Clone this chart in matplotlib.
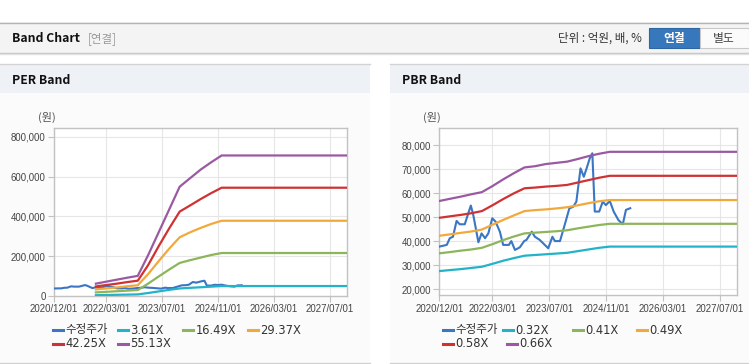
import matplotlib
matplotlib.use("Agg")
import matplotlib.pyplot as plt
import matplotlib.dates as mdates
from matplotlib.patches import Rectangle
from matplotlib.lines import Line2D
from matplotlib.ticker import FuncFormatter
import pandas as pd

# ---------------- data ----------------
price_dates = ['2020-12-01', '2021-02-03', '2021-03-01', '2021-03-28', '2021-04-28', '2021-05-25',
               '2021-07-07', '2021-08-28', '2021-09-18', '2021-11-01', '2021-11-28', '2021-12-28',
               '2022-01-25', '2022-02-28', '2022-03-28', '2022-05-04', '2022-06-01', '2022-07-20',
               '2022-08-10', '2022-09-10', '2022-10-22', '2022-11-28', '2022-12-18', '2023-02-01',
               '2023-02-28', '2023-04-10', '2023-06-22', '2023-07-28', '2023-08-18', '2023-10-01',
               '2023-11-10', '2023-12-20', '2024-01-22', '2024-02-18', '2024-03-25', '2024-04-22',
               '2024-05-16', '2024-06-12', '2024-07-04', '2024-07-25', '2024-09-01', '2024-10-01',
               '2024-10-28', '2024-12-01', '2025-01-03', '2025-02-12', '2025-03-22', '2025-04-18',
               '2025-05-25']
price = [37800, 38500, 41300, 41900, 48500, 47100,
         47100, 54900, 51000, 39600, 43300, 41300,
         43300, 49600, 48200, 44000, 38500, 38500,
         40100, 36400, 37500, 40100, 40600, 44000,
         41900, 40600, 37100, 41900, 40100, 40100,
         46800, 53700, 54400, 56500, 70400, 66900,
         70400, 74600, 76700, 52400, 52400, 56500,
         55100, 56800, 52400, 48900, 47100, 53100,
         53800]

per_dates = ['2021-12-01', '2022-03-01', '2022-06-01', '2022-09-01', '2022-12-01', '2023-03-01',
             '2023-06-01', '2023-09-01', '2023-12-01', '2024-03-01', '2024-06-01', '2024-09-01',
             '2024-12-01', '2027-11-28']
per_labels = ['3.61X', '16.49X', '29.37X', '42.25X', '55.13X']
per_361 = [4000, 5000, 6000, 7000, 8000, 15000, 23000, 31000, 38000, 41000, 44000, 47000, 50000, 50000]
per_1649 = [18000, 21000, 24000, 27000, 30000, 62000, 98000, 133000, 166000, 180000, 193000, 206000, 216000, 216000]
per_2937 = [33000, 38000, 43000, 49000, 54000, 110000, 175000, 238000, 295000, 320000, 342000, 362000, 378000, 378000]
per_4225 = [48000, 55000, 62000, 70000, 77000, 155000, 250000, 340000, 424000, 455000, 487000, 517000, 544000, 544000]
per_5513 = [62000, 72000, 82000, 92000, 101000, 205000, 320000, 435000, 549000, 592000, 635000, 672000, 706000, 706000]

pbr_dates = ['2020-12-01', '2021-03-01', '2021-06-01', '2021-09-01', '2021-12-01', '2022-03-01',
             '2022-06-01', '2022-09-01', '2022-12-01', '2023-03-01', '2023-06-01', '2023-09-01',
             '2023-12-01', '2024-03-01', '2024-06-01', '2024-09-01', '2024-12-01', '2027-11-28']
pbr_labels = ['0.32X', '0.41X', '0.49X', '0.58X', '0.66X']
pbr_032 = [27600, 28000, 28400, 28900, 29400, 30600, 31900, 33000, 34000, 34300, 34600, 34900,
           35200, 35900, 36600, 37300, 37800, 37800]
pbr_041 = [35000, 35500, 36100, 36600, 37300, 38800, 40500, 42000, 43300, 43600, 43900, 44200,
           44600, 45400, 46100, 46800, 47300, 47300]
pbr_049 = [42300, 42900, 43500, 44100, 44900, 46900, 48900, 50800, 52600, 53000, 53300, 53700,
           54200, 55000, 55900, 56700, 57200, 57200]
pbr_058 = [49800, 50400, 51000, 51700, 52600, 55000, 57600, 60000, 62100, 62400, 62800, 63100,
           63500, 64500, 65500, 66500, 67300, 67300]
pbr_066 = [56800, 57700, 58600, 59600, 60500, 63000, 65800, 68400, 70800, 71300, 72200, 72700,
           73200, 74300, 75500, 76500, 77300, 77300]

price_label = '수정주가'
tick_dates = ['2020-12-01', '2022-03-01', '2023-07-01', '2024-11-01', '2026-03-01', '2027-07-01']
x_range = ['2020-12-01', '2027-11-28']
per_yticks = [0, 200000, 400000, 600000, 800000]
pbr_yticks = [20000, 30000, 40000, 50000, 60000, 70000, 80000]

# ---------------- style ----------------
colors = ['#3a76c4', '#22b3c8', '#8db55a', '#f2a93b', '#cf3232', '#9a5aa2']
FONT = ['Liberation Sans', 'Noto Sans CJK KR', 'DejaVu Sans']
LFONT = ['DejaVu Sans', 'Noto Sans CJK KR']
KFONT = ['Noto Sans CJK KR', 'DejaVu Sans']
plt.rcParams['font.family'] = FONT

W, H = 749, 364
fig = plt.figure(figsize=(W / 100, H / 100), dpi=100)
fig.patch.set_facecolor('white')


def fx(x):
    return x / W


def fy(y):
    return 1 - y / H


def rect(x0, y0, x1, y1, fc, ec='none', lw=0, z=0):
    fig.add_artist(Rectangle((fx(x0), fy(y1)), (x1 - x0) / W, (y1 - y0) / H,
                             transform=fig.transFigure, facecolor=fc, edgecolor=ec,
                             linewidth=lw, zorder=z))


def hline(x0, x1, y, c, lw=1.0, z=1):
    fig.add_artist(Line2D([fx(x0), fx(x1)], [fy(y), fy(y)], transform=fig.transFigure,
                          color=c, linewidth=lw, zorder=z))


# header band
rect(0, 22, W, 53, '#f4f4f4')
hline(0, W, 22.5, '#b4b4b4', 1.0)
hline(0, W, 53, '#c4c4c4', 1.0)
hline(0, W, 54.2, '#e2e2e2', 1.0)
fig.text(fx(11.5), fy(38.5), 'Band Chart', fontsize=8.8, fontweight='bold', family=KFONT,
         color='#111111', va='center', ha='left')
fig.text(fx(88), fy(38.5), '[연결]', fontsize=8.3, family=KFONT, color='#999999',
         va='center', ha='left')
fig.text(fx(641.5), fy(38.5), '단위 : 억원, 배, %', fontsize=8.3, family=KFONT, color='#333333',
         va='center', ha='right')
rect(648.5, 28.5, 699.5, 47.5, '#3777bb', ec='#2d66a3', lw=0.8, z=1)
rect(699.5, 28.5, 748.5, 47.5, '#fbfbfb', ec='#c8c8c8', lw=0.8, z=1)
fig.text(fx(674), fy(38.3), '연결', fontsize=8.5, fontweight='bold', family=KFONT, color='white',
         va='center', ha='center')
fig.text(fx(724), fy(38.3), '별도', fontsize=8.5, family=KFONT, color='#444444',
         va='center', ha='center')

# panels
for (px0, px1, title) in [(0, 370, 'PER Band'), (390, W, 'PBR Band')]:
    rect(px0, 64, px1, 93, '#eef2f7')
    rect(px0, 93, px1, 362, '#fbfbfb')
    hline(px0, px1, 64.3, '#d4d4d4', 1.0)
    hline(px0, px1, 362.5, '#d0d0d0', 1.0)
    fig.text(fx(px0 + 11.5), fy(80), title, fontsize=8.8, fontweight='bold', family=KFONT,
             color='#111111', va='center', ha='left')
    fig.text(fx(px0 + 38 if px0 == 0 else px0 + 33), fy(117), '(원)', fontsize=8, family=KFONT,
             color='#555555', va='center', ha='left')

tdates = pd.to_datetime(tick_dates)
xr = pd.to_datetime(x_range)


def setup_axes(rect_px, ylim, yticks):
    x0, y0, x1, y1 = rect_px
    ax = fig.add_axes([fx(x0), fy(y1), (x1 - x0) / W, (y1 - y0) / H])
    ax.set_facecolor('white')
    ax.set_xlim(xr[0], xr[1])
    ax.set_ylim(*ylim)
    ax.set_xticks(tdates)
    ax.xaxis.set_major_formatter(mdates.DateFormatter('%Y/%m/%d'))
    ax.set_yticks(yticks)
    ax.yaxis.set_major_formatter(FuncFormatter(lambda v, p: f'{int(v):,}'))
    ax.grid(True, color='#e6e6e6', linewidth=0.8, zorder=0)
    ax.set_axisbelow(True)
    for s in ax.spines.values():
        s.set_color('#c2c2c2')
        s.set_linewidth(1.0)
    ax.tick_params(axis='both', length=4, width=0.8, color='#c2c2c2', labelsize=6.9,
                   labelcolor='#444444')
    ax.tick_params(axis='x', pad=2)
    ax.tick_params(axis='y', pad=2)
    for lab in ax.get_xticklabels() + ax.get_yticklabels():
        lab.set_family(FONT)
    return ax


pdts = pd.to_datetime(price_dates)

# PER chart
ax1 = setup_axes((54, 128, 347, 296), (0, 844000), per_yticks)
ax1.plot(pdts, price, color=colors[0], lw=1.5, zorder=3)
perd = pd.to_datetime(per_dates)
for i, s in enumerate([per_361, per_1649, per_2937, per_4225, per_5513]):
    ax1.plot(perd, s, color=colors[i + 1], lw=1.6, zorder=3)

# PBR chart
ax2 = setup_axes((439.3, 128.3, 737.3, 295.3), (17500, 87100), pbr_yticks)
ax2.plot(pdts, price, color=colors[0], lw=1.5, zorder=3)
pbrd = pd.to_datetime(pbr_dates)
for i, s in enumerate([pbr_032, pbr_041, pbr_049, pbr_058, pbr_066]):
    ax2.plot(pbrd, s, color=colors[i + 1], lw=1.6, zorder=3)


# legends
def legend(labels, positions):
    for (lab, col, (x, y)) in zip(labels, colors, positions):
        fig.add_artist(Line2D([fx(x), fx(x + 10)], [fy(y), fy(y)], transform=fig.transFigure,
                              color=col, linewidth=2.2, zorder=2))
        fig.text(fx(x + 12.5), fy(y), lab, fontsize=8.3, color='#333333', va='center', ha='left',
                 family=LFONT)


legend([price_label] + per_labels,
       [(53, 330), (118, 330), (183, 330), (248, 330), (53, 343.5), (118, 343.5)])
legend([price_label] + pbr_labels,
       [(443, 330), (503, 330), (573, 330), (637, 330), (443, 343.5), (507, 343.5)])

fig.savefig('out.png', dpi=100, facecolor=fig.get_facecolor())
